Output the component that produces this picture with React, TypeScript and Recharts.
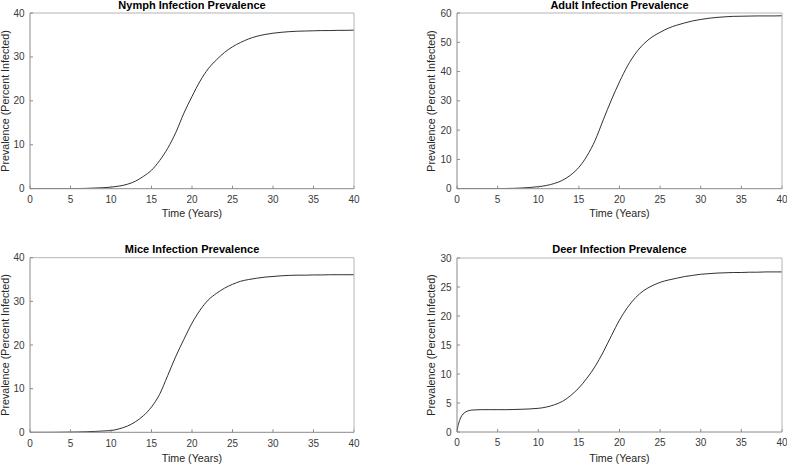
import React from 'react';
import { LineChart, Line, XAxis, YAxis } from 'recharts';

const timeYears = [0, 0.1, 0.25, 0.5, 0.75, 1, 1.5, 2, 3, 4, 5, 6, 7, 8, 9, 10, 11, 12, 13, 14, 15, 16, 17, 18, 19, 20, 21, 22, 23, 24, 25, 26, 27, 28, 29, 30, 31, 32, 33, 34, 35, 36, 37, 38, 39, 40];

const nymphPrevalence = [0, 0, 0, 0, 0, 0, 0, 0, 0, 0.01, 0.02, 0.04, 0.08, 0.15, 0.22, 0.35, 0.6, 1.0, 1.7, 2.8, 4.2, 6.4, 9.2, 12.8, 17.2, 21, 24.5, 27.3, 29.3, 31, 32.3, 33.3, 34.1, 34.7, 35.1, 35.4, 35.6, 35.75, 35.85, 35.9, 35.95, 36, 36, 36.05, 36.05, 36.1];

const adultPrevalence = [0, 0, 0, 0, 0, 0, 0, 0, 0.01, 0.02, 0.04, 0.07, 0.13, 0.24, 0.42, 0.7, 1.1, 1.8, 2.9, 4.7, 7.3, 11.2, 16.5, 23.5, 30.3, 36.5, 42, 46.3, 49.5, 51.8, 53.4, 54.8, 55.8, 56.6, 57.3, 57.8, 58.2, 58.5, 58.7, 58.85, 58.9, 58.95, 59, 59, 59, 59.05];

const micePrevalence = [0, 0, 0, 0, 0, 0, 0, 0, 0.01, 0.03, 0.05, 0.08, 0.13, 0.2, 0.3, 0.4, 0.8, 1.4, 2.4, 3.8, 5.8, 8.7, 13, 17.4, 21.3, 25, 28, 30.3, 31.8, 33, 33.9, 34.6, 35, 35.3, 35.55, 35.7, 35.85, 35.95, 36, 36, 36.05, 36.05, 36.1, 36.1, 36.1, 36.1];

const deerPrevalence = [0, 0.9, 1.7, 2.6, 3.1, 3.4, 3.7, 3.8, 3.85, 3.85, 3.85, 3.85, 3.88, 3.92, 3.98, 4.08, 4.3, 4.7, 5.3, 6.3, 7.6, 9.3, 11.3, 13.8, 16.6, 19.3, 21.5, 23.2, 24.4, 25.2, 25.8, 26.2, 26.5, 26.8, 27, 27.2, 27.3, 27.4, 27.45, 27.5, 27.5, 27.55, 27.55, 27.6, 27.6, 27.6];

const xTicks = [0, 5, 10, 15, 20, 25, 30, 35, 40];
const nymphYTicks = [0, 10, 20, 30, 40];
const adultYTicks = [0, 10, 20, 30, 40, 50, 60];
const miceYTicks = [0, 10, 20, 30, 40];
const deerYTicks = [0, 5, 10, 15, 20, 25, 30];

const panelTitles = ['Nymph Infection Prevalence', 'Adult Infection Prevalence', 'Mice Infection Prevalence', 'Deer Infection Prevalence'];
const xLabel = 'Time (Years)';
const yLabel = 'Prevalence (Percent Infected)';

const chartData = timeYears.map((t, i) => ({
  t,
  nymph: nymphPrevalence[i],
  adult: adultPrevalence[i],
  mice: micePrevalence[i],
  deer: deerPrevalence[i],
}));

const FONT = '"Liberation Sans", Arial, Helvetica, sans-serif';
const AXIS_DARK = '#8a8a8a';
const AXIS_LIGHT = '#b4b4b4';
const TICK_TEXT = '#3a3a3a';

type PanelProps = {
  left: number;
  top: number;
  width: number;
  height: number;
  plotLeft: number;
  plotTop: number;
  plotRight: number;
  plotBottom: number;
  dataKey: string;
  yTicks: number[];
};

function Panel(p: PanelProps) {
  const yMax = p.yTicks[p.yTicks.length - 1];
  const margin = {
    left: p.plotLeft - 30,
    top: p.plotTop - 1,
    right: p.width - p.plotRight - 1,
    bottom: p.height - p.plotBottom - 20,
  };
  return (
    <div style={{ position: 'absolute', left: p.left, top: p.top }}>
      <LineChart width={p.width} height={p.height} data={chartData} margin={margin}>
        <XAxis
          xAxisId="bottom"
          dataKey="t"
          type="number"
          domain={[0, 40]}
          allowDataOverflow
          ticks={xTicks}
          interval={0}
          height={20}
          tickSize={-3}
          tickMargin={10.3}
          axisLine={{ stroke: AXIS_DARK }}
          tickLine={{ stroke: AXIS_DARK }}
          tick={{ fill: TICK_TEXT, fontSize: 10, fontFamily: FONT }}
        />
        <XAxis
          xAxisId="top"
          orientation="top"
          dataKey="t"
          type="number"
          domain={[0, 40]}
          allowDataOverflow
          ticks={xTicks}
          interval={0}
          height={1}
          tickSize={-3}
          tick={false}
          axisLine={{ stroke: AXIS_LIGHT }}
          tickLine={{ stroke: AXIS_LIGHT }}
        />
        <YAxis
          yAxisId="left"
          type="number"
          domain={[0, yMax]}
          allowDataOverflow
          ticks={p.yTicks}
          interval={0}
          width={30}
          tickSize={-3}
          tickMargin={8.5}
          axisLine={{ stroke: AXIS_DARK }}
          tickLine={{ stroke: AXIS_DARK }}
          tick={{ fill: TICK_TEXT, fontSize: 10, fontFamily: FONT }}
        />
        <YAxis
          yAxisId="right"
          orientation="right"
          type="number"
          domain={[0, yMax]}
          allowDataOverflow
          ticks={p.yTicks}
          interval={0}
          width={1}
          tickSize={-3}
          tick={false}
          axisLine={{ stroke: AXIS_LIGHT }}
          tickLine={{ stroke: AXIS_LIGHT }}
        />
        <Line
          xAxisId="top"
          yAxisId="right"
          dataKey={p.dataKey}
          type="monotone"
          dot={false}
          stroke="none"
          strokeOpacity={0}
          activeDot={false}
          legendType="none"
          isAnimationActive={false}
        />
        <Line
          xAxisId="bottom"
          yAxisId="left"
          dataKey={p.dataKey}
          type="monotone"
          dot={false}
          stroke="#1a1a1a"
          strokeWidth={0.9}
          isAnimationActive={false}
        />
      </LineChart>
    </div>
  );
}

const titleCenters = [
  [192, 8.8],
  [619.5, 8.8],
  [192, 252.5],
  [619.5, 252.5],
];
const xLabelPos = [
  [192, 217.3],
  [619.5, 217.3],
  [192, 462],
  [619.5, 462],
];
const yLabelPos = [
  [8.5, 101],
  [434.5, 101],
  [8.5, 345],
  [434.5, 345],
];

export default function App() {
  return (
    <div style={{ position: 'absolute', left: 0, top: 0, width: 787, height: 464, background: '#fff', overflow: 'hidden' }}>
      <Panel left={0} top={0} width={393} height={232} plotLeft={30} plotTop={13} plotRight={354} plotBottom={188.7} dataKey="nymph" yTicks={nymphYTicks} />
      <Panel left={393} top={0} width={394} height={232} plotLeft={64} plotTop={13} plotRight={389} plotBottom={188.7} dataKey="adult" yTicks={adultYTicks} />
      <Panel left={0} top={232} width={393} height={232} plotLeft={30} plotTop={25.7} plotRight={354} plotBottom={200.3} dataKey="mice" yTicks={miceYTicks} />
      <Panel left={393} top={232} width={394} height={232} plotLeft={64} plotTop={26} plotRight={389} plotBottom={200} dataKey="deer" yTicks={deerYTicks} />
      <svg width={787} height={464} style={{ position: 'absolute', left: 0, top: 0, pointerEvents: 'none' }}>
        {panelTitles.map((title, i) => (
          <text key={'t' + i} x={titleCenters[i][0]} y={titleCenters[i][1]} textAnchor="middle" fontFamily={FONT} fontSize={11} fontWeight="bold" fill="#000">
            {title}
          </text>
        ))}
        {xLabelPos.map((pos, i) => (
          <text key={'x' + i} x={pos[0]} y={pos[1]} textAnchor="middle" fontFamily={FONT} fontSize={10.7} fill="#262626">
            {xLabel}
          </text>
        ))}
        {yLabelPos.map((pos, i) => (
          <text key={'y' + i} x={pos[0]} y={pos[1]} textAnchor="middle" fontFamily={FONT} fontSize={10.7} fill="#262626" transform={`rotate(-90 ${pos[0]} ${pos[1]})`}>
            {yLabel}
          </text>
        ))}
      </svg>
    </div>
  );
}
